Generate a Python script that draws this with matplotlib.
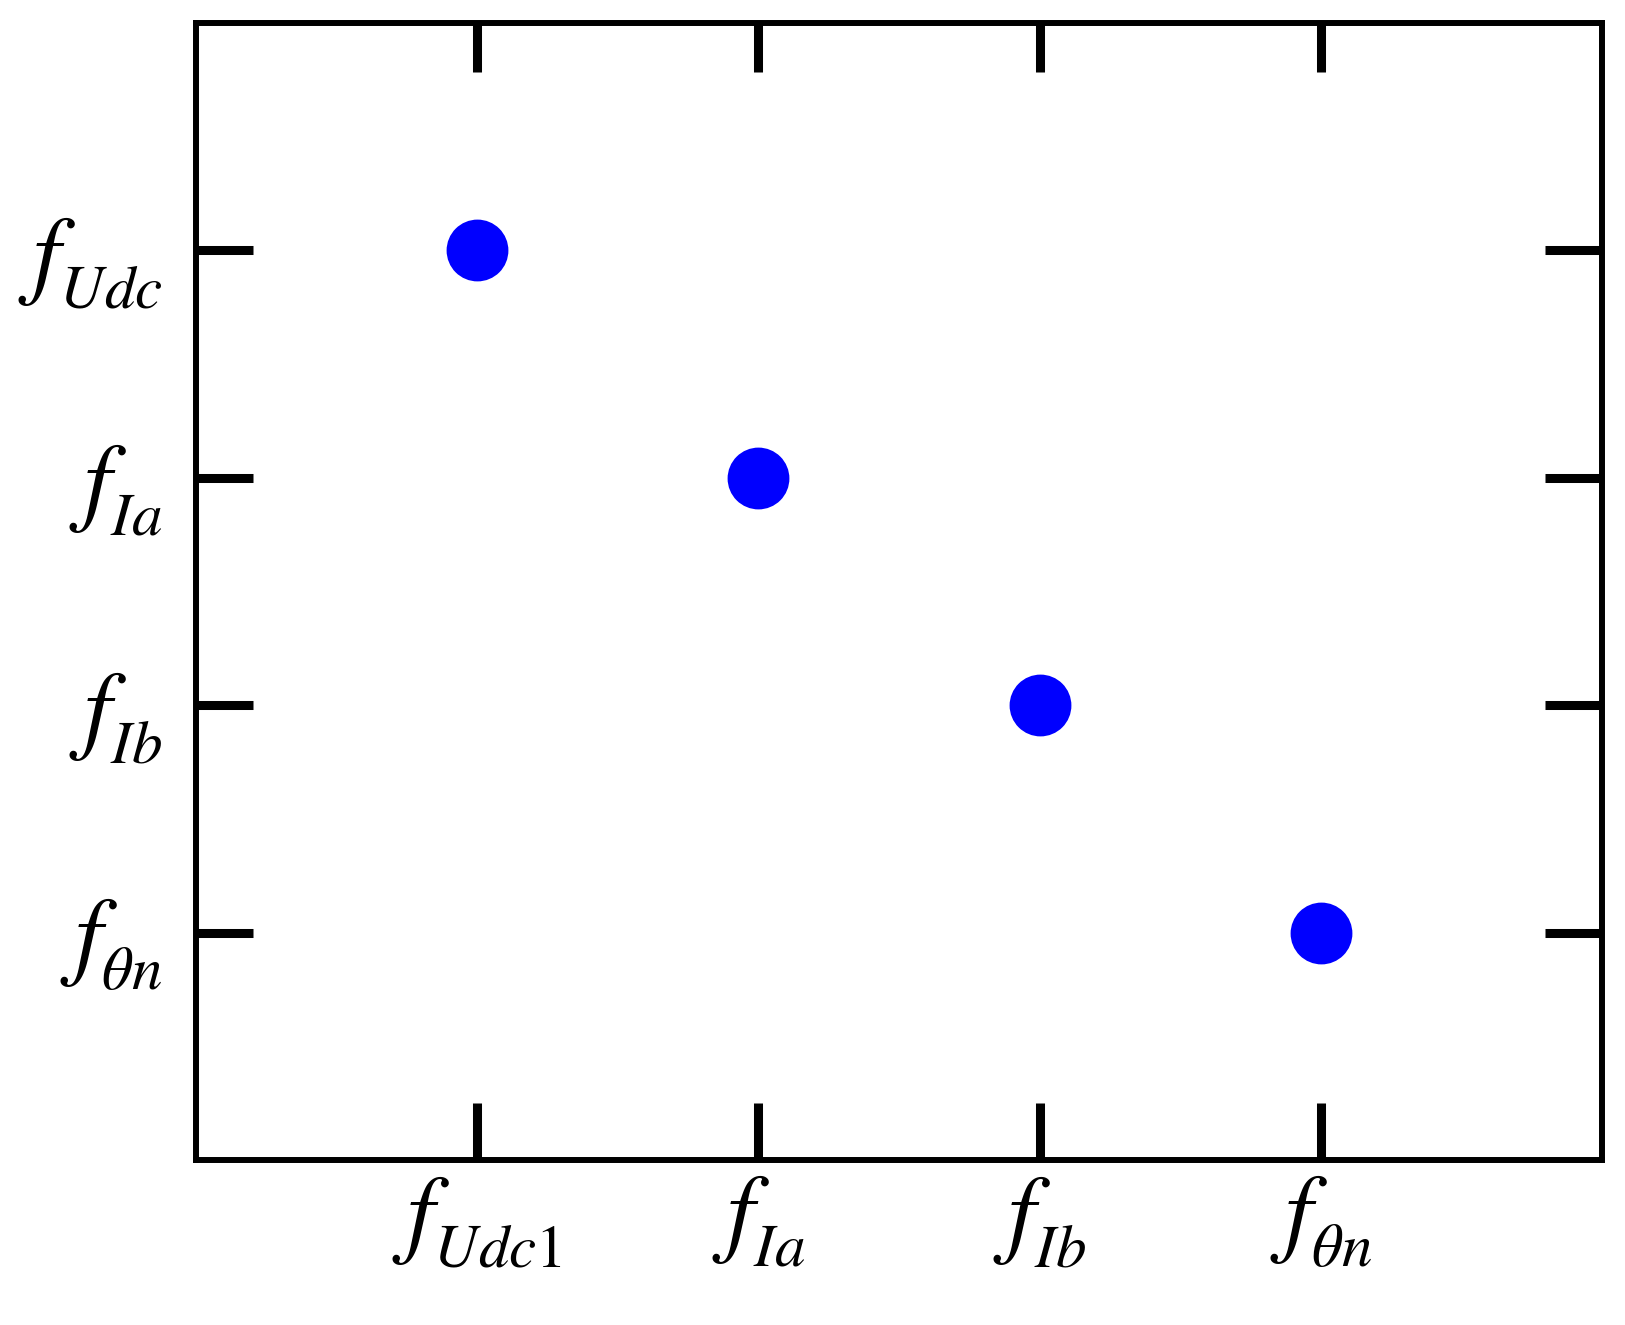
import matplotlib
matplotlib.use("Agg")
import matplotlib.pyplot as plt
try:
    import matplotlib._mathtext as _mt
    _mt.STIXFontConstants.sub1 = 0.5
    _mt.SHRINK_FACTOR = 0.62
except Exception:
    pass

plt.rcParams['mathtext.fontset'] = 'stix'
plt.rcParams['font.family'] = 'STIXGeneral'

# data
x_labels = [r'$f_{Udc1}$', r'$f_{Ia}$', r'$f_{Ib}$', r'$f_{\theta n}$']
y_labels = [r'$f_{\theta n}$', r'$f_{Ib}$', r'$f_{Ia}$', r'$f_{Udc}$']
x_ticks = [1, 2, 3, 4]
y_ticks = [1, 2, 3, 4]
point_x = [1, 2, 3, 4]
point_y = [4, 3, 2, 1]

fig = plt.figure(figsize=(16.25, 13.25), dpi=100)
ax = fig.add_axes([196/1625, 1 - 1160/1325, (1602-196)/1625, (1160-23)/1325])

ax.plot(point_x, point_y, 'o', ms=44.5, color='#0000ff', mec='none', zorder=3)

ax.set_xlim(0, 5)
ax.set_ylim(0, 5)
ax.set_xticks(x_ticks)
ax.set_xticklabels(x_labels)
ax.set_yticks(y_ticks)
ax.set_yticklabels(y_labels)

for s in ax.spines.values():
    s.set_linewidth(4.3)
ax.tick_params(axis='both', which='major', direction='in', length=41, width=6.5,
               top=True, right=True, labelsize=71)
ax.tick_params(axis='x', pad=10)
ax.tick_params(axis='y', pad=24)
for t in ax.xaxis.get_major_ticks():
    t.tick2line.set_markersize(35)

fig.savefig('out.png', dpi=100, facecolor='white')
